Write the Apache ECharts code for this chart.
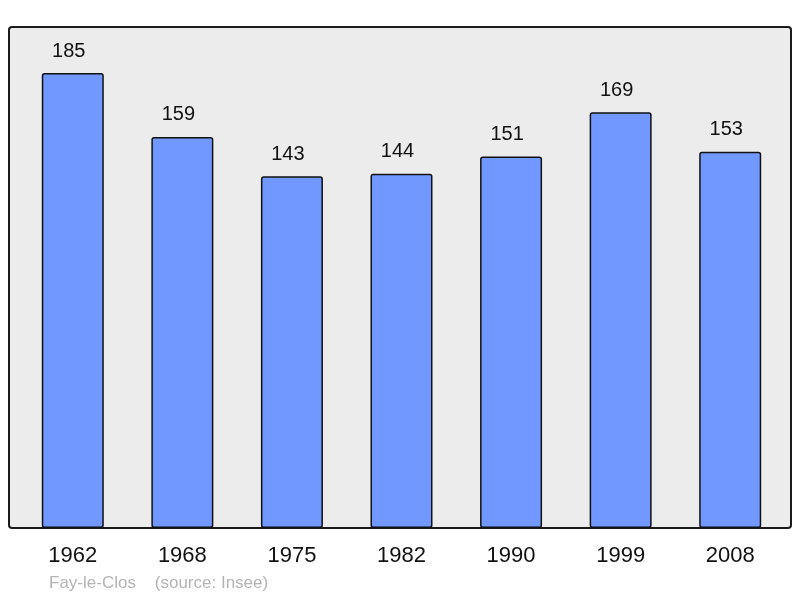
<!DOCTYPE html>
<html>
<head>
<meta charset="utf-8">
<script src="https://cdn.jsdelivr.net/npm/echarts@6/dist/echarts.min.js"></script>
<style>
html, body { margin: 0; padding: 0; background: #fff; }
#chart { width: 800px; height: 598px; }
</style>
</head>
<body>
<div id="chart"></div>
<script>
var years = ['1962', '1968', '1975', '1982', '1990', '1999', '2008'];
var population = [185, 159, 143, 144, 151, 169, 153];

var myChart = echarts.init(document.getElementById('chart'));

var option = {
	animation: false,
	grid: {
		left: 18,
		right: 15,
		top: 27,
		bottom: 70
	},
	graphic: [{
		type: 'rect',
		z: -10,
		shape: { x: 9, y: 27, width: 782, height: 501, r: 3 },
		style: { fill: '#ececec', stroke: '#1a1a1a', lineWidth: 2 }
	}, {
		type: 'text',
		left: 49,
		top: 575,
		style: {
			text: 'Fay-le-Clos    (source: Insee)',
			fill: '#b4b4b4',
			font: '17px "Liberation Sans", Arial, sans-serif'
		}
	}],
	xAxis: {
		type: 'category',
		data: years,
		axisLine: { show: false },
		axisTick: { show: false },
		axisLabel: {
			margin: 17,
			fontSize: 22,
			color: '#111',
			fontFamily: '"Liberation Sans", Arial, sans-serif'
		}
	},
	yAxis: {
		type: 'value',
		min: 0,
		max: 203.7,
		show: false,
		splitLine: { show: false }
	},
	series: [{
		type: 'bar',
		data: population,
		barWidth: 62,
		itemStyle: {
			color: '#7098ff',
			borderColor: '#111',
			borderWidth: 1.5,
			borderRadius: 2
		},
		label: {
			show: true,
			position: 'top',
			distance: 12,
			offset: [-4, 0],
			fontSize: 20,
			color: '#111',
			fontFamily: '"Liberation Sans", Arial, sans-serif'
		}
	}]
};
myChart.setOption(option);
</script>
</body>
</html>
